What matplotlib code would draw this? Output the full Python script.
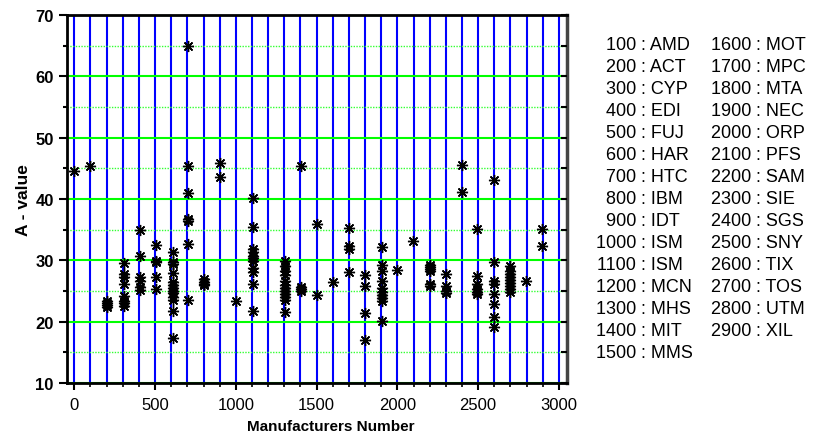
import numpy as np
import matplotlib
matplotlib.use("Agg")
import matplotlib.pyplot as plt
from matplotlib.ticker import MultipleLocator

plt.rcParams["font.family"] = ["Liberation Sans", "DejaVu Sans"]

# manufacturer number (slightly offset per group) and measured A-values
group_x = [0, 100, 205, 305, 405, 505, 612, 707, 805, 903, 1004, 1109, 1305,
           1402, 1501, 1600, 1703, 1800, 1903, 1995, 2099, 2200, 2300, 2398,
           2495, 2600, 2700, 2795, 2896]
group_values = [
    [44.5],
    [45.3],
    [23.3, 23.0, 22.7, 22.4],
    [29.6, 27.7, 27.3, 26.1, 24.2, 23.4, 23.0, 22.6],
    [34.9, 30.7, 27.3, 26.6, 25.6, 25.2],
    [32.5, 29.9, 29.7, 27.3, 25.4],
    [31.4, 29.8, 29.4, 28.0, 26.4, 25.9, 25.5, 25.0, 24.6, 24.1, 23.6, 21.8, 17.4],
    [65.0, 45.4, 40.9, 36.7, 36.4, 32.6, 23.6],
    [26.9, 26.5, 26.2, 25.9],
    [45.8, 43.6],
    [23.4],
    [40.1, 35.4, 31.9, 31.3, 30.7, 30.3, 29.9, 28.7, 28.1, 26.1, 21.7],
    [29.9, 29.1, 28.3, 27.6, 26.6, 26.0, 25.5, 25.0, 24.5, 24.0, 23.6, 21.6],
    [45.4, 25.7, 25.3, 25.0],
    [35.9, 24.3],
    [26.5],
    [35.2, 32.3, 31.8, 28.1],
    [27.6, 25.8, 21.4, 17.0],
    [32.2, 29.3, 28.3, 26.6, 25.5, 24.8, 24.3, 23.8, 23.3, 20.1],
    [28.5],
    [33.2],
    [29.2, 28.9, 28.6, 28.3, 26.2, 25.8],
    [27.7, 25.8, 25.0, 24.7],
    [45.5, 41.1],
    [35.1, 27.4, 26.1, 25.3, 24.8, 24.5],
    [43.1, 29.7, 26.6, 26.1, 24.5, 22.8, 20.8, 19.2],
    [29.0, 28.3, 27.8, 27.3, 26.8, 26.3, 25.8, 25.3, 24.8],
    [26.6],
    [35.1, 32.3],
]

codes = list(range(100, 3000, 100))
names = ["AMD", "ACT", "CYP", "EDI", "FUJ", "HAR", "HTC", "IBM", "IDT", "ISM",
         "ISM", "MCN", "MHS", "MIT", "MMS", "MOT", "MPC", "MTA", "NEC", "ORP",
         "PFS", "SAM", "SIE", "SGS", "SNY", "TIX", "TOS", "UTM", "XIL"]

xs = np.concatenate([[x] * len(v) for x, v in zip(group_x, group_values)])
ys = np.concatenate(group_values)

fig = plt.figure(figsize=(8.19, 4.39), dpi=100)
ax = fig.add_axes([0.0818, 0.1253, 0.6105, 0.8383])

ax.set_xlim(-45, 3050)
ax.set_ylim(10, 70)

ax.xaxis.set_major_locator(MultipleLocator(500))
ax.xaxis.set_minor_locator(MultipleLocator(100))
ax.yaxis.set_major_locator(MultipleLocator(10))
ax.yaxis.set_minor_locator(MultipleLocator(5))

# vertical blue lines every 100, green horizontal (solid at 10s, dotted at 5s)
ax.grid(True, axis="x", which="both", color="#0000ff", lw=1.5)
ax.grid(True, axis="y", which="major", color="#00ff00", lw=1.5)
ax.grid(True, axis="y", which="minor", color="#33ff33", lw=1.0, ls=(0, (1, 1)))
ax.set_axisbelow(True)

ax.plot(xs, ys, ls="none", marker=(8, 2, 0), ms=8, mew=1.0, color="black", zorder=3)

for side in ["left", "bottom", "top"]:
    ax.spines[side].set_linewidth(2)
ax.spines["right"].set_linewidth(2.5)
ax.spines["right"].set_color("#444444")

ax.tick_params(axis="y", which="major", direction="out", length=6, width=1.5,
               labelsize=12)
ax.tick_params(axis="y", which="minor", direction="out", length=3, width=1.5)
ax.tick_params(axis="x", which="major", direction="out", length=5, width=1.5,
               labelsize=12, pad=5)
ax.tick_params(axis="x", which="minor", direction="out", length=3, width=1.2)
for t in ax.get_yticklabels():
    t.set_fontweight("bold")

# inward ticks along the right edge
ax_r = ax.twinx()
ax_r.set_ylim(ax.get_ylim())
ax_r.yaxis.set_major_locator(MultipleLocator(5))
ax_r.tick_params(axis="y", direction="in", length=4, width=1.5, labelright=False)
ax_r.spines[:].set_visible(False)

ax.set_xlabel("Manufacturers Number", fontsize=11, fontweight="bold")
ax.xaxis.set_label_coords(0.528, -0.097)
ax.set_ylabel("A - value", fontsize=12.5, fontweight="bold", labelpad=3)

# manufacturer code list on the right, two columns aligned on the colon
rows_per_col = 15
for i, (code, name) in enumerate(zip(codes, names)):
    col, row = divmod(i, rows_per_col)
    xc = (641 if col == 0 else 756) / 819
    yc = 1 - (45 + row * 22.07) / 439
    fig.text(xc, yc, f"{code} ", ha="right", va="center", fontsize=13)
    fig.text(xc, yc, f": {name}", ha="left", va="center", fontsize=13)

fig.savefig("out.png", dpi=100)
